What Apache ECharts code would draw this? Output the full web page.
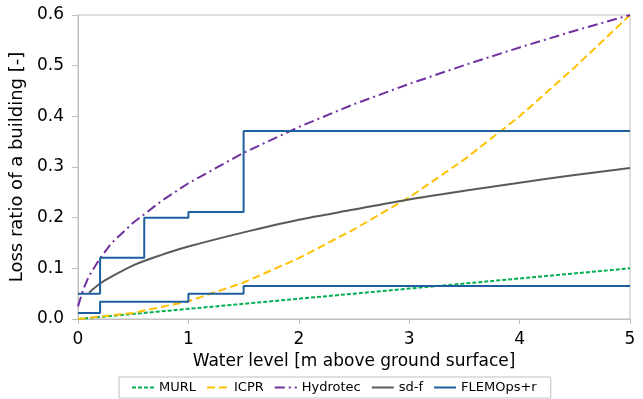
<!DOCTYPE html>
<html>
<head>
<meta charset="utf-8">
<script src="https://cdn.jsdelivr.net/npm/echarts@6/dist/echarts.min.js"></script>
<style>
  html, body { margin: 0; padding: 0; background: #fff; }
  #chart { width: 643px; height: 399px; }
</style>
</head>
<body>
<div id="chart"></div>
<script>
// water level [m] and loss ratio per model
const murlX = [0, 1, 2, 3, 4, 5];
const murlY = [0, 0.02, 0.04, 0.06, 0.08, 0.1];

const icprX = [0, 0.5, 1, 1.5, 2, 2.5, 3, 3.5, 4, 4.5, 5];
const icprY = [0, 0.012, 0.035, 0.072, 0.12, 0.177, 0.24, 0.315, 0.4, 0.497, 0.6];

const hydroX = [0, 0.05, 0.1, 0.2, 0.3, 0.5, 0.75, 1, 1.5, 2, 2.5, 3, 3.5, 4, 4.5, 5];
const hydroY = [0.025, 0.06, 0.085, 0.12, 0.149, 0.19, 0.232, 0.268, 0.328, 0.379, 0.424, 0.464, 0.501, 0.536, 0.569, 0.6];

const sdfX = [0.1, 0.2, 0.3, 0.5, 0.75, 1, 1.5, 2, 2.5, 3, 3.5, 4, 4.5, 5];
const sdfY = [0.052, 0.07, 0.083, 0.106, 0.126, 0.143, 0.171, 0.196, 0.216, 0.236, 0.253, 0.269, 0.284, 0.298];

const flemoHighX = [0, 0.2, 0.6, 1, 1.5, 5];
const flemoHighY = [0.05, 0.121, 0.2, 0.211, 0.371, 0.371];
const flemoLowX = [0, 0.2, 1, 1.5, 5];
const flemoLowY = [0.012, 0.034, 0.05, 0.065, 0.065];

const legendNames = ['MURL', 'ICPR', 'Hydrotec', 'sd-f', 'FLEMOps+r'];

const pairs = (xs, ys) => xs.map((x, i) => [x, ys[i]]);

const chart = echarts.init(document.getElementById('chart'));
const font = 'DejaVu Sans';

const lineSeries = (name, data, color, dash, extra) => Object.assign({
  name: name,
  type: 'line',
  data: data,
  symbol: 'none',
  smooth: false,
  lineStyle: { color: color, width: 2, type: dash },
  itemStyle: { color: color },
  emphasis: { disabled: true }
}, extra || {});

const option = {
  animation: false,
  textStyle: { fontFamily: font },
  grid: {
    left: 78, right: 13, top: 15, bottom: 80,
    show: true, borderColor: '#bfbfbf', borderWidth: 1
  },
  legend: {
    data: legendNames,
    left: 119,
    top: 377,
    padding: [4, 14, 4, 12],
    itemWidth: 22,
    itemHeight: 10,
    itemGap: 10,
    itemStyle: { opacity: 0 },
    borderColor: '#bfbfbf',
    borderWidth: 1,
    borderRadius: 0,
    textStyle: { fontFamily: font, fontSize: 13, color: '#000' }
  },
  xAxis: {
    type: 'value',
    min: 0, max: 5, interval: 1,
    name: 'Water level [m above ground surface]',
    nameLocation: 'middle',
    nameGap: 32,
    nameTextStyle: { fontSize: 17, color: '#000', fontFamily: font },
    axisLine: { lineStyle: { color: '#bfbfbf' } },
    axisTick: { show: true, length: 5, lineStyle: { color: '#bfbfbf' } },
    axisLabel: { fontSize: 17, color: '#000', margin: 12, fontFamily: font },
    splitLine: { show: false }
  },
  yAxis: {
    type: 'value',
    min: 0, max: 0.6, interval: 0.1,
    name: 'Loss ratio of a building [-]',
    nameLocation: 'middle',
    nameGap: 44,
    nameTextStyle: { fontSize: 18, color: '#000', fontFamily: font },
    axisLine: { show: true, lineStyle: { color: '#bfbfbf' } },
    axisTick: { show: true, length: 6, lineStyle: { color: '#bfbfbf' } },
    axisLabel: { fontSize: 17, color: '#000', margin: 14, fontFamily: font, formatter: v => v.toFixed(1) },
    splitLine: { show: false }
  },
  series: [
    lineSeries('MURL', pairs(murlX, murlY), '#00B050', [4, 2]),
    lineSeries('ICPR', pairs(icprX, icprY), '#FFC000', [8, 4]),
    lineSeries('Hydrotec', pairs(hydroX, hydroY), '#7030A0', [10, 4, 2, 4]),
    lineSeries('sd-f', pairs(sdfX, sdfY), '#595959', 'solid', { smooth: 0.3 }),
    lineSeries('FLEMOps+r', pairs(flemoHighX, flemoHighY), '#1F5F9F', 'solid', { step: 'end' }),
    lineSeries('FLEMOps+r', pairs(flemoLowX, flemoLowY), '#1F5F9F', 'solid', { step: 'end' })
  ]
};

chart.setOption(option);
</script>
</body>
</html>
